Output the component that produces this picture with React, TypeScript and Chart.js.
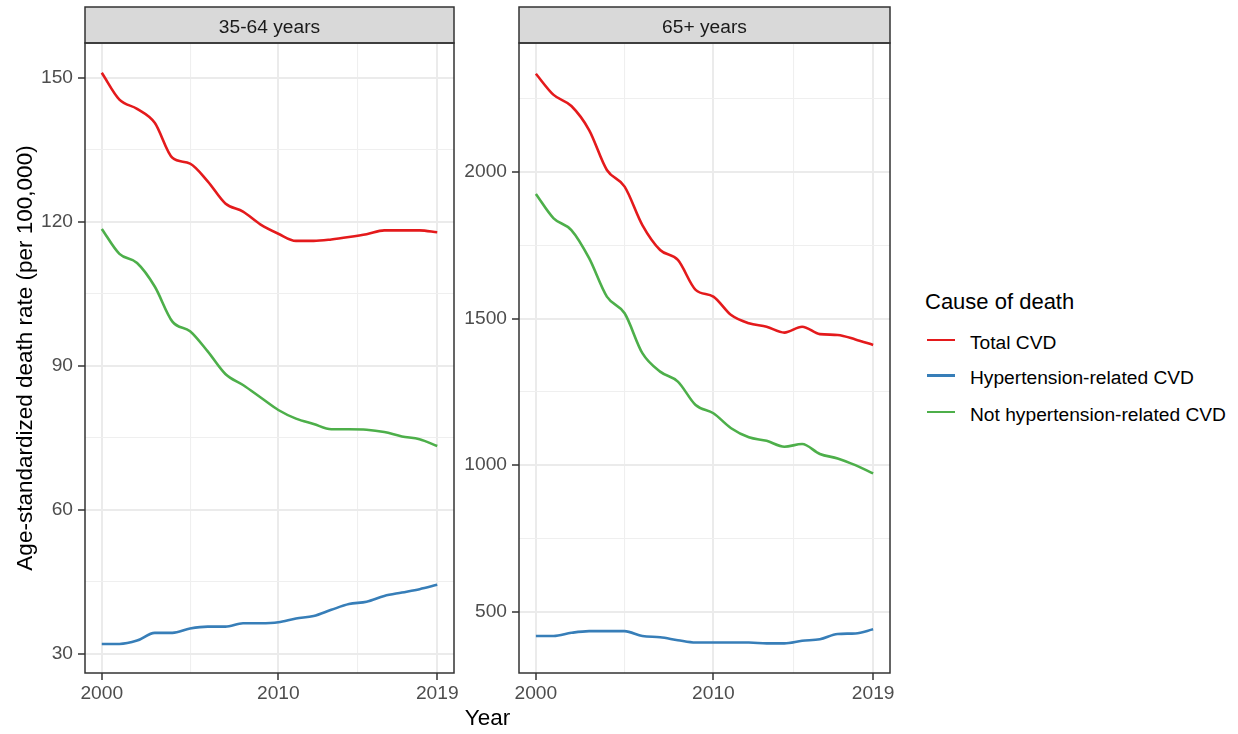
import React, { useEffect, useRef } from "react";
import { Chart, registerables } from "chart.js";

Chart.register(...registerables);

// ---------- data ----------
const years = [2000, 2001, 2002, 2003, 2004, 2005, 2006, 2007, 2008, 2009, 2010, 2011, 2012, 2013, 2014, 2015, 2016, 2017, 2018, 2019];

const seriesNames = ["Total CVD", "Hypertension-related CVD", "Not hypertension-related CVD"];
const seriesColors = ["#E41A1C", "#377EB8", "#4DAF4A"];
const panelTitles = ["35-64 years", "65+ years"];

// 35-64 years
const midTotal = [151.0, 145.4, 143.5, 140.6, 133.3, 132.1, 128.4, 123.8, 122.1, 119.4, 117.5, 116.0, 116.0, 116.3, 116.8, 117.4, 118.2, 118.2, 118.2, 117.8];
const midHyper = [32.1, 32.1, 32.8, 34.4, 34.4, 35.3, 35.7, 35.7, 36.4, 36.4, 36.6, 37.4, 37.9, 39.2, 40.4, 40.9, 42.1, 42.8, 43.5, 44.4];
const midNotHyper = [118.5, 113.3, 111.4, 106.5, 99.2, 97.2, 93.0, 88.3, 86.0, 83.4, 80.8, 79.0, 77.9, 76.8, 76.8, 76.7, 76.2, 75.3, 74.7, 73.3];

// 65+ years
const oldTotal = [2335, 2263, 2225, 2143, 2007, 1950, 1819, 1734, 1700, 1598, 1575, 1512, 1484, 1472, 1452, 1472, 1447, 1444, 1429, 1410];
const oldHyper = [417, 417, 428, 434, 434, 434, 417, 413, 403, 395, 395, 395, 395, 392, 392, 401, 406, 424, 426, 440];
const oldNotHyper = [1925, 1842, 1802, 1706, 1575, 1518, 1382, 1319, 1285, 1205, 1177, 1126, 1095, 1083, 1063, 1072, 1038, 1023, 1000, 972];

// axis ticks (major labelled, minor gridlines only)
const xMajor = [2000, 2010, 2019];
const xMinor = [2005, 2014.5];
const midYMajor = [30, 60, 90, 120, 150];
const midYMinor = [45, 75, 105, 135];
const oldYMajor = [500, 1000, 1500, 2000];
const oldYMinor = [750, 1250, 1750, 2250];

const FONT = "'Liberation Sans', Arial, sans-serif";
const SMALL = 19.2;

const framePlugin = {
  id: "panelFrame",
  afterDraw(chart: any, _args: any, opts: any) {
    const { ctx, chartArea: a } = chart;
    const stripH = 36;
    ctx.save();
    ctx.fillStyle = "#D9D9D9";
    ctx.fillRect(a.left, a.top - stripH, a.right - a.left, stripH);
    ctx.strokeStyle = "#333333";
    ctx.lineWidth = 1.5;
    ctx.strokeRect(a.left, a.top - stripH, a.right - a.left, stripH);
    ctx.strokeRect(a.left, a.top, a.right - a.left, a.bottom - a.top);
    ctx.fillStyle = "#1A1A1A";
    ctx.font = `${SMALL}px ${FONT}`;
    ctx.textAlign = "center";
    ctx.textBaseline = "middle";
    ctx.fillText(opts.label, (a.left + a.right) / 2, a.top - stripH / 2 + 3);
    ctx.restore();
  },
};

function buildConfig(p: any) {
  const yAll = [...p.yMajor, ...p.yMinor].sort((a: number, b: number) => a - b);
  const xAll = [...xMajor, ...xMinor].sort((a, b) => a - b);
  const gridOpts = (major: number[]) => ({
    color: (c: any) => (major.includes(c.tick?.value) ? "#EBEBEB" : "#EFEFEF"),
    lineWidth: (c: any) => (major.includes(c.tick?.value) ? 2 : 1.1),
    tickColor: (c: any) => (major.includes(c.tick?.value) ? "#333333" : "rgba(0,0,0,0)"),
    tickWidth: 1.5,
    tickLength: 7,
    drawTicks: true,
  });
  return {
    type: "line",
    data: {
      datasets: p.values.map((vals: number[], i: number) => ({
        label: seriesNames[i],
        data: years.map((yr, j) => ({ x: yr, y: vals[j] })),
        borderColor: seriesColors[i],
        backgroundColor: seriesColors[i],
        borderWidth: 2.6,
        pointRadius: 0,
        cubicInterpolationMode: "monotone",
        fill: false,
      })),
    },
    options: {
      animation: false,
      responsive: true,
      maintainAspectRatio: false,
      layout: { padding: { left: 0, top: 43, right: p.padRight, bottom: 0 } },
      plugins: {
        legend: { display: false },
        tooltip: { enabled: false },
        panelFrame: { label: p.title },
      },
      scales: {
        x: {
          type: "linear",
          min: 1999.05,
          max: 2019.95,
          afterBuildTicks: (s: any) => {
            s.ticks = xAll.map((v) => ({ value: v }));
          },
          afterFit: (s: any) => {
            s.height = 61;
          },
          ticks: {
            autoSkip: false,
            maxRotation: 0,
            padding: 2,
            color: "#4D4D4D",
            font: { family: FONT, size: SMALL },
            callback: (v: number) => (xMajor.includes(v) ? String(v) : ""),
          },
          grid: gridOpts(xMajor),
          border: { display: false },
        },
        y: {
          type: "linear",
          min: p.yMin,
          max: p.yMax,
          afterBuildTicks: (s: any) => {
            s.ticks = yAll.map((v: number) => ({ value: v }));
          },
          afterFit: (s: any) => {
            s.width = p.yWidth;
          },
          ticks: {
            autoSkip: false,
            padding: 5,
            color: "#4D4D4D",
            font: { family: FONT, size: SMALL },
            callback: (v: number) => (p.yMajor.includes(v) ? String(v) : ""),
          },
          grid: gridOpts(p.yMajor),
          border: { display: false },
          title: {
            display: !!p.yTitle,
            text: p.yTitle || "",
            color: "#000000",
            font: { family: FONT, size: 22.5 },
            padding: { top: 12, bottom: 0 },
          },
        },
      },
    },
    plugins: [framePlugin],
  };
}

function Panel({ left, width, spec }: { left: number; width: number; spec: any }) {
  const ref = useRef<HTMLCanvasElement>(null);
  useEffect(() => {
    const chart = new Chart(ref.current as HTMLCanvasElement, buildConfig(spec) as any);
    return () => chart.destroy();
  }, []);
  return (
    <div style={{ position: "absolute", left, top: 0, width, height: 734 }}>
      <canvas ref={ref} />
    </div>
  );
}

const panels = [
  {
    left: 0,
    width: 462,
    spec: {
      title: panelTitles[0],
      values: [midTotal, midHyper, midNotHyper],
      yMajor: midYMajor,
      yMinor: midYMinor,
      yMin: 26.05,
      yMax: 157.2,
      yWidth: 85,
      padRight: 8,
      yTitle: "Age-standardized death rate (per 100,000)",
    },
  },
  {
    left: 462,
    width: 440,
    spec: {
      title: panelTitles[1],
      values: [oldTotal, oldHyper, oldNotHyper],
      yMajor: oldYMajor,
      yMinor: oldYMinor,
      yMin: 291,
      yMax: 2440,
      yWidth: 57,
      padRight: 12,
      yTitle: "",
    },
  },
];

const legendTops = [330.5, 366, 402.5];

export default function App() {
  return (
    <div style={{ position: "absolute", left: 0, top: 0, width: 1238, height: 734, background: "#FFFFFF", fontFamily: FONT, overflow: "hidden" }}>
      {panels.map((p, i) => (
        <Panel key={i} left={p.left} width={p.width} spec={p.spec} />
      ))}
      <div style={{ position: "absolute", left: 0, width: 975, top: 705, textAlign: "center", fontSize: 22.5, lineHeight: "26.4px", color: "#000" }}>
        Year
      </div>
      <div style={{ position: "absolute", left: 925, top: 289, fontSize: 22, lineHeight: "26.4px", color: "#000", whiteSpace: "nowrap" }}>
        Cause of death
      </div>
      {seriesNames.map((name, i) => (
        <React.Fragment key={name}>
          <div style={{ position: "absolute", left: 927, top: legendTops[i] + 8, width: 28, height: 2.6, background: seriesColors[i] }} />
          <div style={{ position: "absolute", left: 970, top: legendTops[i], fontSize: SMALL, lineHeight: "23px", color: "#000", whiteSpace: "nowrap" }}>
            {name}
          </div>
        </React.Fragment>
      ))}
    </div>
  );
}
